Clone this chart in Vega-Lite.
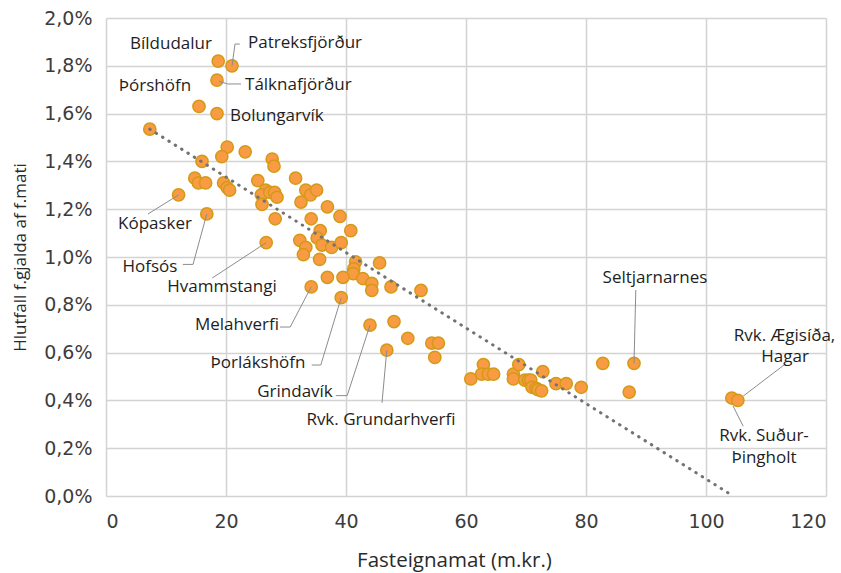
{
  "$schema": "https://vega.github.io/schema/vega-lite/v6.json",
  "width": 720,
  "height": 478,
  "autosize": {"type": "none"},
  "padding": {"left": 106, "top": 18, "right": 15, "bottom": 77},
  "config": {
    "font": "Open Sans",
    "view": {"stroke": null},
    "axis": {
      "grid": true,
      "gridColor": "#d3d3d3",
      "gridWidth": 1.5,
      "domain": false,
      "ticks": false,
      "labelFont": "DejaVu Sans",
      "labelFontSize": 19,
      "labelColor": "#3c3c3c",
      "titleFont": "Open Sans",
      "titleFontWeight": "normal",
      "titleColor": "#2a2a2a"
    }
  },
  "datasets": {
    "points": [
      {"fm": 18.7, "hl": 1.82}, {"fm": 21.0, "hl": 1.80}, {"fm": 18.5, "hl": 1.74}, {"fm": 15.5, "hl": 1.63},
      {"fm": 18.5, "hl": 1.60}, {"fm": 7.3, "hl": 1.535}, {"fm": 20.2, "hl": 1.46}, {"fm": 23.2, "hl": 1.44},
      {"fm": 16.0, "hl": 1.40}, {"fm": 19.3, "hl": 1.42}, {"fm": 27.7, "hl": 1.41}, {"fm": 28.0, "hl": 1.38},
      {"fm": 14.8, "hl": 1.33}, {"fm": 15.4, "hl": 1.31}, {"fm": 16.6, "hl": 1.31}, {"fm": 19.6, "hl": 1.31},
      {"fm": 20.2, "hl": 1.29}, {"fm": 20.6, "hl": 1.28}, {"fm": 12.1, "hl": 1.26}, {"fm": 16.8, "hl": 1.18},
      {"fm": 25.3, "hl": 1.32}, {"fm": 26.6, "hl": 1.28}, {"fm": 25.9, "hl": 1.26}, {"fm": 27.3, "hl": 1.27},
      {"fm": 28.1, "hl": 1.27}, {"fm": 28.5, "hl": 1.25}, {"fm": 26.0, "hl": 1.22}, {"fm": 31.6, "hl": 1.33},
      {"fm": 33.3, "hl": 1.28}, {"fm": 34.1, "hl": 1.26}, {"fm": 35.1, "hl": 1.28}, {"fm": 32.5, "hl": 1.23},
      {"fm": 28.2, "hl": 1.16}, {"fm": 34.2, "hl": 1.16}, {"fm": 36.9, "hl": 1.21}, {"fm": 39.0, "hl": 1.17},
      {"fm": 40.8, "hl": 1.11}, {"fm": 35.7, "hl": 1.11}, {"fm": 32.3, "hl": 1.07}, {"fm": 35.2, "hl": 1.08},
      {"fm": 36.0, "hl": 1.05}, {"fm": 37.6, "hl": 1.04}, {"fm": 39.2, "hl": 1.06}, {"fm": 33.3, "hl": 1.04},
      {"fm": 32.9, "hl": 1.01}, {"fm": 35.6, "hl": 0.99}, {"fm": 26.7, "hl": 1.06}, {"fm": 41.6, "hl": 0.98},
      {"fm": 41.3, "hl": 0.95}, {"fm": 41.2, "hl": 0.93}, {"fm": 42.8, "hl": 0.91}, {"fm": 44.3, "hl": 0.89},
      {"fm": 44.3, "hl": 0.86}, {"fm": 45.6, "hl": 0.975}, {"fm": 47.5, "hl": 0.875}, {"fm": 52.5, "hl": 0.86},
      {"fm": 36.9, "hl": 0.915}, {"fm": 39.5, "hl": 0.915}, {"fm": 34.2, "hl": 0.875}, {"fm": 39.2, "hl": 0.83},
      {"fm": 44.0, "hl": 0.715}, {"fm": 48.0, "hl": 0.73}, {"fm": 50.3, "hl": 0.66}, {"fm": 54.3, "hl": 0.64},
      {"fm": 55.4, "hl": 0.64}, {"fm": 54.8, "hl": 0.58}, {"fm": 46.8, "hl": 0.61}, {"fm": 60.8, "hl": 0.49},
      {"fm": 62.9, "hl": 0.55}, {"fm": 62.6, "hl": 0.51}, {"fm": 63.7, "hl": 0.51}, {"fm": 64.6, "hl": 0.51},
      {"fm": 67.9, "hl": 0.51}, {"fm": 67.9, "hl": 0.49}, {"fm": 68.8, "hl": 0.55}, {"fm": 69.8, "hl": 0.485},
      {"fm": 70.4, "hl": 0.485}, {"fm": 70.8, "hl": 0.485}, {"fm": 71.0, "hl": 0.455}, {"fm": 71.7, "hl": 0.45},
      {"fm": 72.0, "hl": 0.445}, {"fm": 72.6, "hl": 0.44}, {"fm": 72.8, "hl": 0.52}, {"fm": 75.0, "hl": 0.47},
      {"fm": 76.7, "hl": 0.47}, {"fm": 79.2, "hl": 0.455}, {"fm": 82.8, "hl": 0.555}, {"fm": 88.0, "hl": 0.555},
      {"fm": 87.2, "hl": 0.435}, {"fm": 104.3, "hl": 0.41}, {"fm": 105.3, "hl": 0.40}
    ],
    "trend": [
      {"fm": 7.3, "hl": 1.535},
      {"fm": 104.5, "hl": 0.0}
    ],
    "leaders": [
      {"label": "Patreksfjörður", "i": 0, "fm": 21.0, "hl": 1.80},
      {"label": "Patreksfjörður", "i": 1, "fm": 21.5, "hl": 1.891},
      {"label": "Patreksfjörður", "i": 2, "fm": 22.3, "hl": 1.891},
      {"label": "Tálknafjörður", "i": 0, "fm": 18.8, "hl": 1.735},
      {"label": "Tálknafjörður", "i": 1, "fm": 20.3, "hl": 1.724},
      {"label": "Tálknafjörður", "i": 2, "fm": 22.5, "hl": 1.724},
      {"label": "Kópasker", "i": 0, "fm": 12.1, "hl": 1.26},
      {"label": "Kópasker", "i": 1, "fm": 7.0, "hl": 1.18},
      {"label": "Hofsós", "i": 0, "fm": 16.8, "hl": 1.18},
      {"label": "Hofsós", "i": 1, "fm": 14.5, "hl": 0.969},
      {"label": "Hofsós", "i": 2, "fm": 12.8, "hl": 0.969},
      {"label": "Hvammstangi", "i": 0, "fm": 26.7, "hl": 1.06},
      {"label": "Hvammstangi", "i": 1, "fm": 17.7, "hl": 0.912},
      {"label": "Melahverfi", "i": 0, "fm": 34.2, "hl": 0.875},
      {"label": "Melahverfi", "i": 1, "fm": 30.7, "hl": 0.707},
      {"label": "Melahverfi", "i": 2, "fm": 29.0, "hl": 0.707},
      {"label": "Þorlákshöfn", "i": 0, "fm": 39.2, "hl": 0.83},
      {"label": "Þorlákshöfn", "i": 1, "fm": 35.8, "hl": 0.548},
      {"label": "Þorlákshöfn", "i": 2, "fm": 34.3, "hl": 0.548},
      {"label": "Grindavík", "i": 0, "fm": 44.0, "hl": 0.715},
      {"label": "Grindavík", "i": 1, "fm": 40.2, "hl": 0.42},
      {"label": "Grindavík", "i": 2, "fm": 38.3, "hl": 0.42},
      {"label": "Rvk. Grundarhverfi", "i": 0, "fm": 46.8, "hl": 0.61},
      {"label": "Rvk. Grundarhverfi", "i": 1, "fm": 46.0, "hl": 0.39},
      {"label": "Seltjarnarnes", "i": 0, "fm": 88.0, "hl": 0.555},
      {"label": "Seltjarnarnes", "i": 1, "fm": 88.3, "hl": 0.862},
      {"label": "Rvk. Ægisíða, Hagar", "i": 0, "fm": 113.0, "hl": 0.548},
      {"label": "Rvk. Ægisíða, Hagar", "i": 1, "fm": 106.2, "hl": 0.418},
      {"label": "Rvk. Suður-Þingholt", "i": 0, "fm": 104.5, "hl": 0.377},
      {"label": "Rvk. Suður-Þingholt", "i": 1, "fm": 106.2, "hl": 0.292}
    ],
    "labels": [
      {"label": "Bíldudalur", "side": "center", "fm": 10.83, "hl": 1.891},
      {"label": "Þórshöfn", "side": "center", "fm": 8.17, "hl": 1.715},
      {"label": "Kópasker", "side": "center", "fm": 8.17, "hl": 1.138},
      {"label": "Hofsós", "side": "center", "fm": 7.33, "hl": 0.958},
      {"label": "Hvammstangi", "side": "center", "fm": 19.33, "hl": 0.874},
      {"label": "Melahverfi", "side": "center", "fm": 21.83, "hl": 0.715},
      {"label": "Þorlákshöfn", "side": "center", "fm": 25.33, "hl": 0.556},
      {"label": "Grindavík", "side": "center", "fm": 31.5, "hl": 0.435},
      {"label": "Rvk. Grundarhverfi", "side": "center", "fm": 45.83, "hl": 0.318},
      {"label": "Seltjarnarnes", "side": "center", "fm": 91.5, "hl": 0.912},
      {"label": "Rvk. Ægisíða,", "side": "center", "fm": 113.08, "hl": 0.671},
      {"label": "Hagar", "side": "center", "fm": 113.17, "hl": 0.582},
      {"label": "Rvk. Suður-", "side": "center", "fm": 109.67, "hl": 0.249},
      {"label": "Þingholt", "side": "center", "fm": 109.67, "hl": 0.159},
      {"label": "Patreksfjörður", "side": "left", "fm": 23.67, "hl": 1.895},
      {"label": "Tálknafjörður", "side": "left", "fm": 23.17, "hl": 1.72},
      {"label": "Bolungarvík", "side": "left", "fm": 20.67, "hl": 1.59}
    ]
  },
  "encoding": {
    "x": {
      "field": "fm",
      "type": "quantitative",
      "scale": {"domain": [0, 120], "nice": false, "zero": false},
      "axis": {
        "values": [0, 20, 40, 60, 80, 100, 120],
        "title": "Fasteignamat (m.kr.)",
        "titleFontSize": 20.5,
        "labelPadding": 16,
        "titleX": 348,
        "titleY": 64,
        "titleAlign": "center",
        "titleBaseline": "middle"
      }
    },
    "y": {
      "field": "hl",
      "type": "quantitative",
      "scale": {"domain": [0, 2.0], "nice": false, "zero": false},
      "axis": {
        "values": [0, 0.2, 0.4, 0.6, 0.8, 1.0, 1.2, 1.4, 1.6, 1.8, 2.0],
        "labelExpr": "replace(format(datum.value, '.1f'), '.', ',') + '%'",
        "labelPadding": 14,
        "title": "Hlutfall f.gjalda af f.mati",
        "titleFontSize": 17,
        "titlePadding": 14
      }
    }
  },
  "layer": [
    {
      "data": {"name": "points"},
      "mark": {"type": "circle", "size": 150, "fill": "#F89B43", "stroke": "#D49A17", "strokeWidth": 1.5, "opacity": 1, "fillOpacity": 1}
    },
    {
      "data": {"name": "trend"},
      "mark": {"type": "line", "color": "#727272", "strokeWidth": 3, "strokeDash": [0.5, 7], "strokeCap": "round"},
      "encoding": {}
    },
    {
      "data": {"name": "leaders"},
      "mark": {"type": "line", "color": "#8c8c8c", "strokeWidth": 1},
      "encoding": {
        "detail": {"field": "label"},
        "order": {"field": "i", "type": "quantitative"}
      }
    },
    {
      "data": {"name": "labels"},
      "transform": [{"filter": "datum.side === 'center'"}],
      "mark": {"type": "text", "font": "Open Sans", "fontSize": 17, "color": "#1e1e1e", "align": "center", "baseline": "middle", "clip": false},
      "encoding": {"text": {"field": "label"}}
    },
    {
      "data": {"name": "labels"},
      "transform": [{"filter": "datum.side === 'left'"}],
      "mark": {"type": "text", "font": "Open Sans", "fontSize": 17, "color": "#1e1e1e", "align": "left", "baseline": "middle", "clip": false},
      "encoding": {"text": {"field": "label"}}
    }
  ]
}
